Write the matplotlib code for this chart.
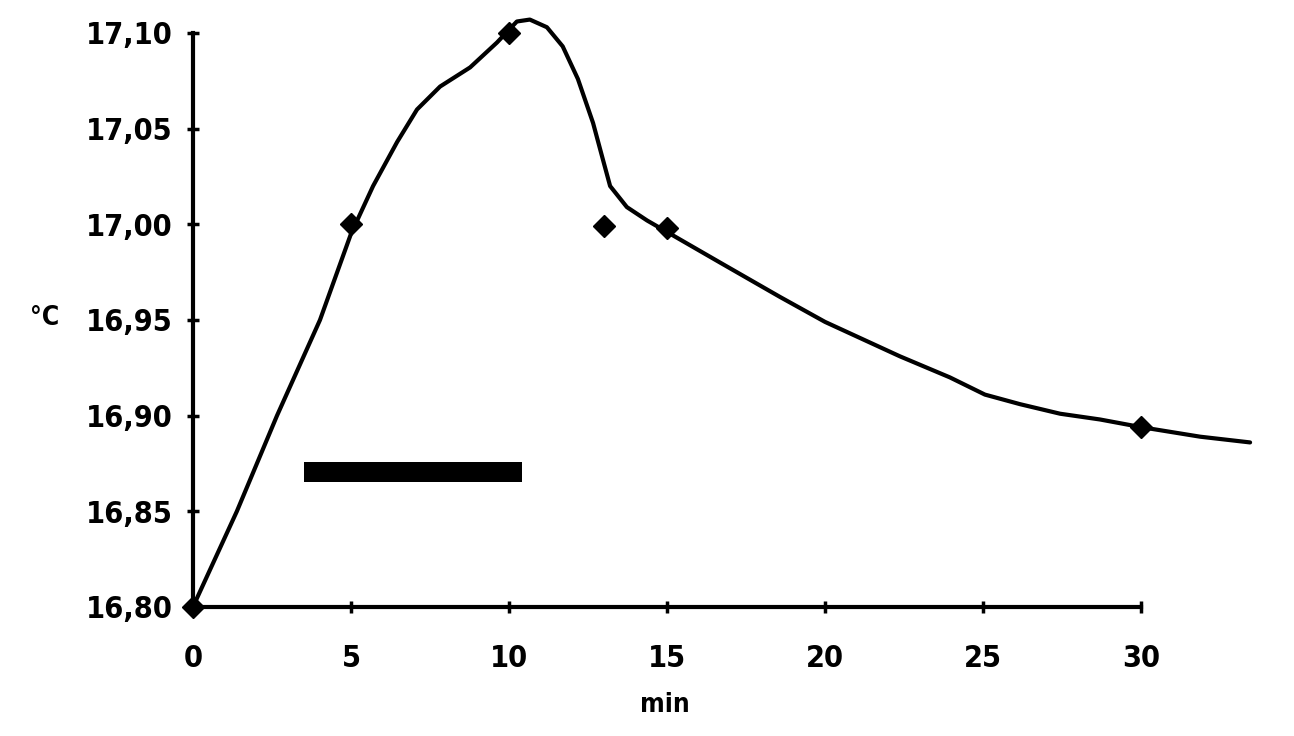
import matplotlib.pyplot as plt

# measured points
t_pts = [0, 5, 10, 13, 15, 30]
temp_pts = [16.80, 17.00, 17.10, 16.999, 16.998, 16.894]

# fitted curve
t_curve = [0, 1.39, 2.66, 4.02, 5.0, 5.70, 6.46, 7.09, 7.82, 8.77, 9.62, 10.25,
           10.66, 11.2, 11.7, 12.18, 12.66, 12.97, 13.2, 13.73, 14.37, 15.0,
           16.68, 18.58, 20.0, 22.37, 23.95, 25.06, 26.17, 27.44, 28.7, 30.0,
           31.87, 33.45]
temp_curve = [16.80, 16.85, 16.90, 16.95, 16.995, 17.020, 17.043, 17.060, 17.072,
              17.082, 17.095, 17.106, 17.107, 17.103, 17.093, 17.076, 17.053,
              17.034, 17.020, 17.009, 17.002, 16.996, 16.980, 16.962, 16.949,
              16.931, 16.920, 16.911, 16.906, 16.901, 16.898, 16.894, 16.889, 16.886]

# stimulus bar
bar_start, bar_end, bar_level = 3.5, 10.4, 16.8705

xticks = [0, 5, 10, 15, 20, 25, 30]
yticks = [16.80, 16.85, 16.90, 16.95, 17.00, 17.05, 17.10]
ylabels = ["16,80", "16,85", "16,90", "16,95", "17,00", "17,05", "17,10"]

fig = plt.figure(figsize=(12.94, 7.36), dpi=100)
ax = fig.add_axes([0.1491, 0.1753, 0.7327, 0.7799])

ax.plot(t_curve, temp_curve, color="black", lw=3, clip_on=False,
        solid_capstyle="round", solid_joinstyle="round")
ax.plot(t_pts, temp_pts, "D", color="black", ms=11, clip_on=False)
ax.barh(bar_level, bar_end - bar_start, left=bar_start, height=0.0105, color="black")

ax.set_xlim(0, 30)
ax.set_ylim(16.80, 17.10)
ax.set_xticks(xticks)
ax.set_xticklabels([str(x) for x in xticks])
ax.set_yticks(yticks)
ax.set_yticklabels(ylabels)

for s in ["top", "right"]:
    ax.spines[s].set_visible(False)
for s in ["left", "bottom"]:
    ax.spines[s].set_linewidth(3)

ax.tick_params(direction="inout", length=9, width=2.5)
ax.tick_params(axis="x", pad=22)
ax.tick_params(axis="y", pad=10)
for lab in ax.get_xticklabels() + ax.get_yticklabels():
    lab.set_fontweight("bold")
    lab.set_fontsize(22)
    lab.set_fontstretch("condensed")

fig.text(45 / 1294, 1 - 318 / 736, "°C", fontweight="bold", fontstretch="condensed",
         fontsize=19, ha="center", va="center")
fig.text(665 / 1294, 1 - 705 / 736, "min", fontweight="bold", fontstretch="condensed",
         fontsize=19, ha="center", va="center")

fig.savefig("out.png", dpi=100)
